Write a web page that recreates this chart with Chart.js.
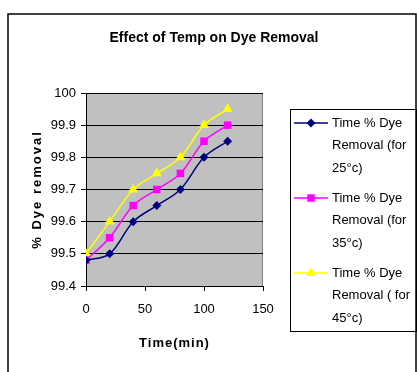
<!DOCTYPE html>
<html>
<head>
<meta charset="utf-8">
<script src="https://cdn.jsdelivr.net/npm/chart.js@4"></script>
<style>
  body { margin: 0; background: #fff; }
  #wrap { width: 417px; height: 372px; }
</style>
</head>
<body>
<div id="wrap"><canvas id="dye-chart" width="417" height="372"></canvas></div>
<script>
// data
var timeMin = [0, 20, 40, 60, 80, 100, 120];
var removal25 = [99.48, 99.5, 99.6, 99.65, 99.7, 99.8, 99.85];
var removal35 = [99.48, 99.55, 99.65, 99.7, 99.75, 99.85, 99.9];
var removal45 = [99.5, 99.6, 99.7, 99.75, 99.8, 99.9, 99.95];
var seriesNames = ['Time % Dye Removal (for 25°c)', 'Time % Dye Removal (for 35°c)', 'Time % Dye Removal ( for 45°c)'];
// how the legend wraps each name
var legendLines = [
    ['Time % Dye', 'Removal (for', '25°c)'],
    ['Time % Dye', 'Removal (for', '35°c)'],
    ['Time % Dye', 'Removal ( for', '45°c)'],
];
var chartTitle = 'Effect of Temp on Dye Removal';
var yTitle = '% Dye removal';
var xTitle = 'Time(min)';

Chart.defaults.font.family = "'Liberation Sans', Arial, sans-serif";
Chart.defaults.font.size = 13;
Chart.defaults.color = '#000';

function pts(ys) {
    return timeMin.map(function (t, i) { return { x: t, y: ys[i] }; });
}

var data = {
    datasets: [{
        label: seriesNames[0],
        data: pts(removal25),
        borderColor: '#000080',
        backgroundColor: '#000080',
        pointStyle: 'rectRot',
        pointRadius: 4.5,
    }, {
        label: seriesNames[1],
        data: pts(removal35),
        borderColor: '#ff00ff',
        backgroundColor: '#ff00ff',
        pointStyle: 'rect',
        pointRadius: 5.3,
    }, {
        label: seriesNames[2],
        data: pts(removal45),
        borderColor: '#ffff00',
        backgroundColor: '#ffff00',
        pointStyle: 'triangle',
        pointRadius: 5.8,
    }]
};

function marker(ctx, style, x, y, r) {
    ctx.beginPath();
    if (style === 'rectRot') {
        ctx.moveTo(x, y - r); ctx.lineTo(x + r, y); ctx.lineTo(x, y + r); ctx.lineTo(x - r, y);
    } else if (style === 'rect') {
        var s = r * Math.SQRT1_2;
        ctx.rect(x - s, y - s, 2 * s, 2 * s);
    } else {
        ctx.moveTo(x, y - r);
        ctx.lineTo(x + r * 0.866, y + r * 0.5);
        ctx.lineTo(x - r * 0.866, y + r * 0.5);
    }
    ctx.closePath();
    ctx.fill();
}

// gray plot area, outer frame, titles and the boxed legend
var excelLook = {
    id: 'excelLook',
    beforeDraw: function (chart) {
        var ctx = chart.ctx, a = chart.chartArea;
        ctx.save();
        ctx.fillStyle = '#fff';
        ctx.fillRect(0, 0, chart.width, chart.height);
        ctx.fillStyle = '#c0c0c0';
        ctx.fillRect(a.left, a.top, a.right - a.left, a.bottom - a.top);
        ctx.strokeStyle = '#808080';
        ctx.lineWidth = 1;
        ctx.strokeRect(a.left + 0.5, a.top + 0.5, a.right - a.left - 1, a.bottom - a.top);
        ctx.restore();
    },
    afterDraw: function (chart) {
        var ctx = chart.ctx, a = chart.chartArea;
        ctx.save();
        // outer frame
        ctx.strokeStyle = '#000';
        ctx.lineWidth = 1.5;
        ctx.beginPath();
        ctx.moveTo(8, 372); ctx.lineTo(8, 14); ctx.lineTo(416, 14); ctx.lineTo(416, 372);
        ctx.stroke();

        // chart title
        ctx.fillStyle = '#000';
        ctx.font = "bold 14px 'Liberation Sans', Arial";
        ctx.textAlign = 'center';
        ctx.textBaseline = 'middle';
        ctx.fillText(chartTitle, 214, 38);

        // axis titles, letter spaced
        ctx.font = "bold 13px 'Liberation Sans', Arial";
        ctx.letterSpacing = '1px';
        ctx.fillText(xTitle, (a.left + a.right) / 2, 343);

        ctx.save();
        ctx.translate(37, (a.top + a.bottom) / 2);
        ctx.rotate(-Math.PI / 2);
        ctx.letterSpacing = '2px';
        ctx.fillText(yTitle, 0, 0);
        ctx.restore();
        ctx.letterSpacing = '0px';

        // legend
        ctx.lineWidth = 1;
        ctx.strokeRect(290.5, 109.5, 126, 222);
        ctx.font = "13px 'Liberation Sans', Arial";
        ctx.textAlign = 'left';
        chart.data.datasets.forEach(function (ds, i) {
            var y0 = 123 + i * 75;
            ctx.strokeStyle = ds.borderColor;
            ctx.lineWidth = 1.5;
            ctx.beginPath();
            ctx.moveTo(294, y0); ctx.lineTo(328, y0);
            ctx.stroke();
            ctx.fillStyle = ds.backgroundColor;
            marker(ctx, ds.pointStyle, 311, y0, ds.pointRadius);
            ctx.fillStyle = '#000';
            legendLines[i].forEach(function (t, j) {
                ctx.fillText(t, 332, y0 + j * 22.5);
            });
        });
        ctx.restore();
    }
};

var layout = {
    type: 'line',
    data: data,
    options: {
        responsive: false,
        animation: false,
        layout: {
            padding: { top: 93, left: 0, right: 154, bottom: 0 }
        },
        elements: {
            line: { borderWidth: 1.5, tension: 0.35 },
            point: { borderWidth: 0, hoverRadius: 5 }
        },
        plugins: {
            legend: { display: false },
            title: { display: false },
            tooltip: { enabled: false }
        },
        scales: {
            x: {
                type: 'linear',
                min: 0,
                max: 150,
                afterFit: function (s) { s.height = 86; },
                ticks: { stepSize: 50, padding: 11, maxRotation: 0 },
                grid: { drawOnChartArea: false, color: '#000', tickLength: 5 },
                border: { color: '#000' }
            },
            y: {
                min: 99.4,
                max: 100,
                afterFit: function (s) { s.width = 86; },
                ticks: {
                    stepSize: 0.1,
                    padding: 5,
                    callback: function (v) { return String(Math.round(v * 10) / 10); }
                },
                grid: { color: '#000', tickLength: 5 },
                border: { color: '#000' }
            }
        }
    },
    plugins: [excelLook]
};

new Chart(document.getElementById('dye-chart'), layout);
</script>
</body>
</html>
